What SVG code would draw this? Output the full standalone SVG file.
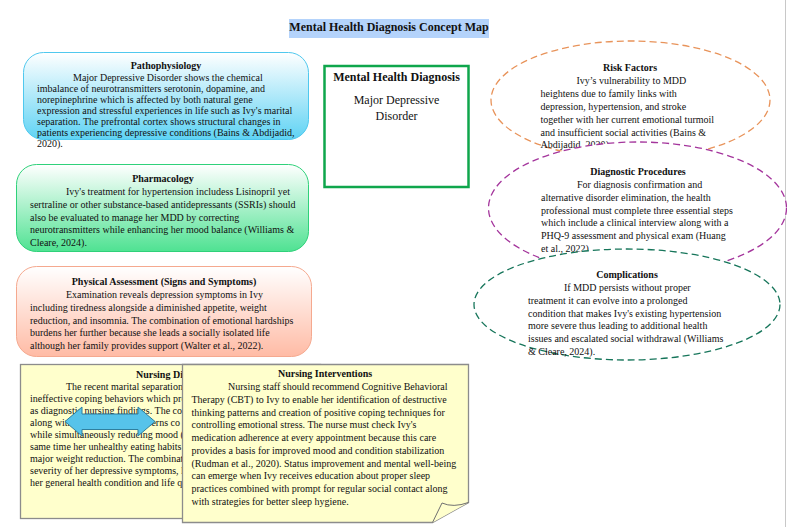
<svg xmlns="http://www.w3.org/2000/svg" width="787" height="527" viewBox="0 0 787 527">
<style>
text{font-family:"Liberation Serif","Times New Roman",serif;font-size:10px;fill:#111}
.b{font-weight:bold;text-anchor:middle}
.d{fill:#fff;stroke-width:1.3;stroke-dasharray:7 4}
.n{fill:#ffffcc;stroke:#8c8c8c;stroke-width:1.3}
</style>
<defs>
<linearGradient id="gb" x1="0" y1="0" x2="0" y2="1"><stop offset="0" stop-color="#fff"/><stop offset="1" stop-color="#5fd3f4"/></linearGradient>
<linearGradient id="gg" x1="0" y1="0" x2="0" y2="1"><stop offset="0" stop-color="#fff"/><stop offset="1" stop-color="#4fe292"/></linearGradient>
<linearGradient id="gr" x1="0" y1="0" x2="0" y2="1"><stop offset="0" stop-color="#fff"/><stop offset="1" stop-color="#ffbba5"/></linearGradient>
</defs>
<rect width="787" height="527" fill="#fff"/>
<line x1="785.500" y1="0" x2="785.500" y2="527" stroke="#c8c8c8" stroke-width="1"/>
<g id="title"><rect x="289" y="19" width="200" height="19" fill="#b4d3fb"/><text class="b" x="389" y="31" style="font-size:12px">Mental Health Diagnosis Concept Map</text></g>
<g id="pathophysiology"><rect x="23.500" y="52.500" width="285" height="87" rx="20" fill="url(#gb)" stroke="#4fc8ee"/>
<text class="b" x="166" y="69">Pathophysiology</text>
<text x="73" y="81">Major Depressive Disorder shows the chemical</text>
<text x="37" y="92">imbalance of neurotransmitters serotonin, dopamine, and</text>
<text x="37" y="103">norepinephrine which is affected by both natural gene</text>
<text x="37" y="114">expression and stressful experiences in life such as Ivy's marital</text>
<text x="37" y="125">separation. The prefrontal cortex shows structural changes in</text>
<text x="37" y="136">patients experiencing depressive conditions (Bains &amp; Abdijadid,</text>
<text x="37" y="147">2020).</text></g>
<g id="pharmacology"><rect x="16.500" y="164.500" width="292" height="87" rx="20" fill="url(#gg)" stroke="#2fd17a"/>
<text class="b" x="163" y="182">Pharmacology</text>
<text x="66" y="195">Ivy's treatment for hypertension includess Lisinopril yet</text>
<text x="30" y="207.500">sertraline or other substance-based antidepressants (SSRIs) should</text>
<text x="30" y="220.500">also be evaluated to manage her MDD by correcting</text>
<text x="30" y="233">neurotransmitters while enhancing her mood balance (Williams &amp;</text>
<text x="30" y="245.500">Cleare, 2024).</text></g>
<g id="assessment"><rect x="16.500" y="266.500" width="295" height="90" rx="20" fill="url(#gr)" stroke="#f5a98f"/>
<text class="b" x="164" y="285">Physical Assessment (Signs and Symptoms)</text>
<text x="66" y="298">Examination reveals depression symptoms in Ivy</text>
<text x="30" y="310.500">including tiredness alongside a diminished appetite, weight</text>
<text x="30" y="323.500">reduction, and insomnia. The combination of emotional hardships</text>
<text x="30" y="336">burdens her further because she leads a socially isolated life</text>
<text x="30" y="349">although her family provides support (Walter et al., 2022).</text></g>
<g id="main"><rect x="324.500" y="66" width="144" height="121" fill="#fff" stroke="#0fa64c" stroke-width="2.500"/>
<text class="b" x="396.500" y="81" style="font-size:12px">Mental Health Diagnosis</text>
<text x="396.500" y="104" text-anchor="middle" style="font-size:12px">Major Depressive</text>
<text x="396.500" y="120" text-anchor="middle" style="font-size:12px">Disorder</text></g>
<g id="risk"><ellipse class="d" cx="630.500" cy="100" rx="139.500" ry="59" stroke="#e8935a"/>
<text class="b" x="630" y="71">Risk Factors</text>
<text x="576.500" y="84">Ivy’s vulnerability to MDD</text>
<text x="540.500" y="97">heightens due to family links with</text>
<text x="540.500" y="110">depression, hypertension, and stroke</text>
<text x="540.500" y="122.500">together with her current emotional turmoil</text>
<text x="540.500" y="135.500">and insufficient social activities (Bains &amp;</text>
<text x="540.500" y="148">Abdijadid, 2020).</text></g>
<g id="diagnostic"><ellipse class="d" cx="637.500" cy="208" rx="149" ry="66" stroke="#a4359c"/>
<text class="b" x="638" y="175">Diagnostic Procedures</text>
<text x="577" y="188">For diagnosis confirmation and</text>
<text x="541" y="201">alternative disorder elimination, the health</text>
<text x="541" y="213.500">professional must complete three essential steps</text>
<text x="541" y="226">which include a clinical interview along with a</text>
<text x="541" y="239">PHQ-9 assessment and physical exam (Huang</text>
<text x="541" y="251.500">et al., 2022).</text></g>
<g id="complications"><ellipse class="d" cx="627" cy="304.500" rx="153" ry="55.500" stroke="#16755a"/>
<text class="b" x="627" y="278">Complications</text>
<text x="564" y="291">If MDD persists without proper</text>
<text x="528" y="304">treatment it can evolve into a prolonged</text>
<text x="528" y="316.500">condition that makes Ivy's existing hypertension</text>
<text x="528" y="329">more severe thus leading to additional health</text>
<text x="528" y="342">issues and escalated social withdrawal (Williams</text>
<text x="528" y="355">&amp; Cleare, 2024).</text></g>
<g id="diagnosis"><rect class="n" x="20.500" y="364.500" width="300" height="154"/>
<text class="b" x="175" y="378">Nursing Diagnosis</text>
<text x="66" y="390">The recent marital separation</text>
<text x="30" y="402">ineffective coping behaviors which pro</text>
<text x="30" y="414">as diagnostic nursing findings. The co</text>
<text x="30" y="426">along with</text>
<text x="180" y="426" text-anchor="end">patterns co</text>
<text x="30" y="438">while simultaneously reducing mood (</text>
<text x="30" y="450">same time her unhealthy eating habits</text>
<text x="30" y="462">major weight reduction. The combinat</text>
<text x="30" y="474">severity of her depressive symptoms, l</text>
<text x="30" y="486">her general health condition and life q</text></g>
<g id="connectors"><path d="M65 421.500L82 407V414H138V407L155 421.500L138 436V429.500H82V436Z" fill="#56c3ea" stroke="#2f7f9e" stroke-width="1"/></g>
<g id="interventions"><path class="n" d="M182.500 364.500H468.500V502.500L432.500 522.500H182.500Z"/>
<path d="M432.500 522.500L442 503Q453 508 468.500 502.500" fill="#ffffcc" stroke="#707070" stroke-width="1"/>
<text class="b" x="325" y="377">Nursing Interventions</text>
<text x="228" y="390">Nursing staff should recommend Cognitive Behavioral</text>
<text x="191.500" y="402.500">Therapy (CBT) to Ivy to enable her identification of destructive</text>
<text x="191.500" y="415.500">thinking patterns and creation of positive coping techniques for</text>
<text x="191.500" y="428">controlling emotional stress. The nurse must check Ivy's</text>
<text x="191.500" y="441">medication adherence at every appointment because this care</text>
<text x="191.500" y="453.500">provides a basis for improved mood and condition stabilization</text>
<text x="191.500" y="466.500">(Rudman et al., 2020). Status improvement and mental well-being</text>
<text x="191.500" y="479">can emerge when Ivy receives education about proper sleep</text>
<text x="191.500" y="492">practices combined with prompt for regular social contact along</text>
<text x="191.500" y="505">with strategies for better sleep hygiene.</text></g>
</svg>
